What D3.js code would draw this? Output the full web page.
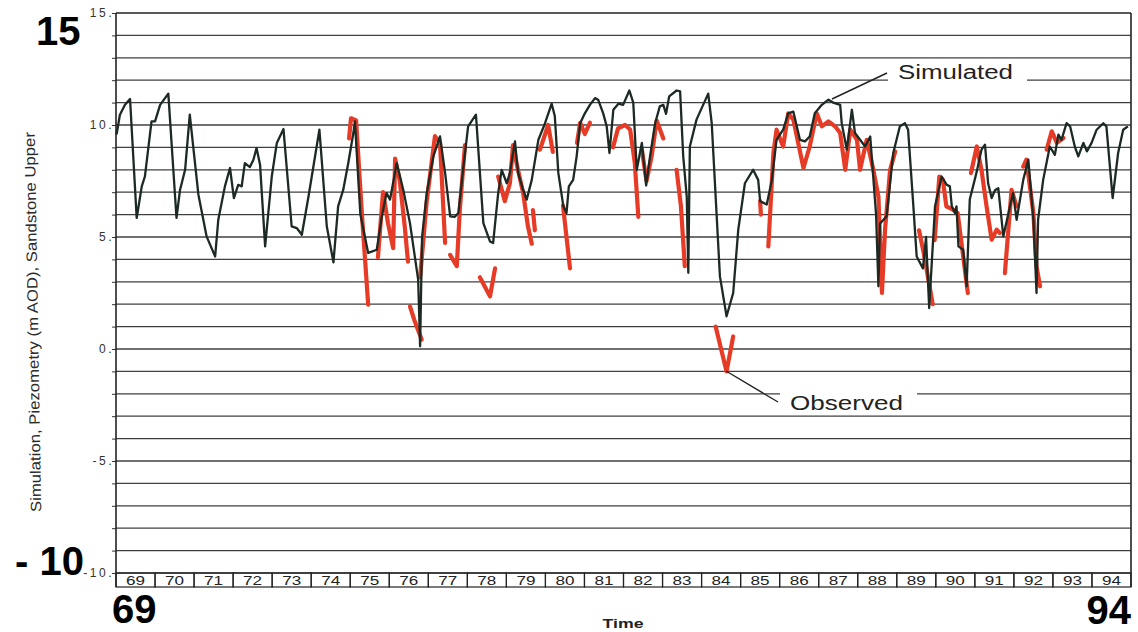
<!DOCTYPE html>
<html>
<head>
<meta charset="utf-8">
<script src="https://cdn.jsdelivr.net/npm/d3@7"></script>
<style>
  html, body { margin: 0; padding: 0; background: #fff; }
  svg { display: block; font-family: "Liberation Sans", Arial, Helvetica, sans-serif; }
</style>
</head>
<body>
<svg id="chart" width="1138" height="632"></svg>
<script>
// ---------- DATA ----------
const yearLabels = ["69","70","71","72","73","74","75","76","77","78","79","80","81","82","83","84","85","86","87","88","89","90","91","92","93","94"];
const yLabelValues = [15, 10, 5, 0, -5, -10];
const gridValues = [-10,-9,-8,-7,-6,-5,-4,-3,-2,-1,0,1,2,3,4,5,6,7,8,9,10,11,12,13,14,15];

// Simulated piezometry [time (year), level m AOD]
const simulated = [
[69.00,9.57],[69.02,9.63],[69.10,10.46],[69.23,10.9],[69.36,11.16],[69.53,5.85],[69.66,7.26],[69.74,7.7],[69.91,10.16],[70.00,10.16],
[70.13,10.9],[70.34,11.4],[70.55,5.85],[70.64,7.1],[70.77,8.0],[70.89,10.46],[71.11,6.9],[71.32,5.03],[71.54,4.13],[71.62,5.77],
[71.79,7.26],[71.92,8.08],[72.02,6.74],[72.13,7.33],[72.22,7.26],[72.30,8.3],[72.43,8.12],[72.52,8.45],[72.60,8.97],[72.69,8.23],
[72.82,4.58],[72.99,7.7],[73.12,9.2],[73.29,9.82],[73.50,5.47],[73.63,5.4],[73.76,5.1],[73.93,6.8],[74.21,9.79],[74.40,5.47],
[74.57,3.87],[74.69,6.37],[74.82,7.1],[74.95,8.3],[75.08,9.64],[75.12,10.16],[75.26,6.0],[75.46,4.29],[75.68,4.43],[75.81,5.92],
[75.93,6.96],[76.02,6.67],[76.19,8.3],[76.36,7.1],[76.53,5.62],[76.74,3.1],[76.79,0.12],[76.84,5.0],[76.96,6.96],[77.13,8.6],
[77.30,9.49],[77.43,7.86],[77.56,5.92],[77.68,5.9],[77.77,6.07],[77.90,8.14],[78.02,9.94],[78.22,10.46],[78.41,5.62],[78.58,4.8],
[78.66,4.73],[78.79,6.96],[78.88,8.0],[79.01,7.4],[79.09,7.86],[79.22,9.27],[79.30,7.86],[79.43,7.1],[79.52,6.67],[79.65,7.55],
[79.82,9.34],[79.99,10.08],[80.16,10.95],[80.24,10.4],[80.33,7.86],[80.46,6.37],[80.54,6.07],[80.60,7.26],[80.71,7.55],[80.80,8.6],
[80.89,10.08],[81.01,10.52],[81.14,10.9],[81.27,11.2],[81.35,11.13],[81.48,10.52],[81.57,9.94],[81.64,8.75],[81.74,10.68],[81.87,10.95],
[81.99,10.9],[82.15,11.54],[82.25,11.0],[82.34,8.0],[82.47,9.2],[82.58,7.3],[82.68,8.6],[82.81,10.08],[82.93,10.83],[83.02,10.9],
[83.09,10.5],[83.17,11.28],[83.36,11.54],[83.45,11.5],[83.53,8.6],[83.62,6.8],[83.66,3.4],[83.70,9.04],[83.87,10.24],[84.17,11.4],
[84.26,10.08],[84.47,3.24],[84.64,1.46],[84.81,2.5],[84.94,5.33],[85.11,7.4],[85.32,8.0],[85.45,7.55],[85.50,6.6],[85.67,6.45],
[85.80,7.55],[85.92,9.34],[86.09,9.79],[86.22,10.52],[86.35,10.6],[86.52,9.34],[86.65,9.27],[86.77,9.49],[86.90,10.52],[87.08,10.9],
[87.25,11.13],[87.37,11.0],[87.55,10.9],[87.59,10.08],[87.72,8.9],[87.85,10.68],[87.93,9.64],[88.06,9.34],[88.19,9.04],[88.32,9.49],
[88.47,6.0],[88.53,2.8],[88.57,5.6],[88.74,5.92],[88.91,8.75],[89.08,9.94],[89.21,10.08],[89.29,9.79],[89.42,6.51],[89.51,4.13],
[89.67,3.6],[89.75,5.0],[89.83,1.83],[89.98,6.37],[90.15,7.7],[90.28,7.33],[90.36,7.26],[90.41,6.37],[90.49,6.07],[90.53,6.37],
[90.58,4.58],[90.70,4.43],[90.79,2.8],[90.87,6.67],[91.05,7.93],[91.17,8.9],[91.26,9.12],[91.34,7.4],[91.43,6.74],[91.52,7.1],
[91.60,7.18],[91.73,5.03],[91.90,6.37],[91.98,6.96],[92.07,5.77],[92.24,7.55],[92.37,8.45],[92.50,5.77],[92.58,2.5],[92.62,5.77],
[92.75,7.55],[92.92,9.04],[93.05,8.67],[93.14,9.57],[93.22,9.34],[93.35,10.08],[93.44,9.94],[93.56,9.04],[93.65,8.6],[93.78,9.2],
[93.87,8.82],[93.99,9.2],[94.12,9.79],[94.29,10.08],[94.37,9.94],[94.53,6.74],[94.67,8.75],[94.80,9.79],[94.92,9.94]
];

// Observed piezometry: separate runs of records [time (year), level m AOD]
const observedRuns = [
[[74.97,9.4],[75.02,10.3],[75.15,10.2],[75.30,6.0],[75.46,1.98]],
[[75.71,4.1],[75.84,7.0],[75.97,5.6],[76.10,4.5],[76.15,8.5],[76.27,7.5],[76.40,5.4],[76.48,3.9]],
[[76.53,1.9],[76.66,1.2],[76.83,0.42]],
[[76.79,3.2],[76.96,6.6],[77.17,9.5],[77.30,9.2],[77.43,4.74]],
[[77.56,4.2],[77.73,3.7],[77.81,6.3],[77.94,9.1]],
[[78.32,3.2],[78.58,2.35],[78.71,3.6]],
[[78.79,7.7],[78.96,6.6],[79.09,7.4],[79.17,9.1],[79.26,8.3],[79.43,6.96],[79.55,5.5],[79.65,4.7]],
[[79.68,6.2],[79.73,5.3]],
[[79.86,8.9],[80.07,10.0],[80.19,8.8]],
[[80.45,6.4],[80.63,3.6]],
[[80.81,9.2],[80.89,10.1],[81.01,9.6],[81.14,10.1]],
[[81.73,9.0],[81.86,9.85],[82.04,10.0],[82.17,9.8],[82.29,8.3],[82.38,5.9]],
[[82.47,8.9],[82.59,7.5],[82.72,8.6],[82.85,10.2],[83.02,9.4]],
[[83.36,8.0],[83.47,6.4],[83.57,3.7]],
[[84.36,1.0],[84.64,-1.0],[84.81,0.56]],
[[85.50,6.6],[85.52,6.0]],
[[85.71,4.58],[85.84,8.75],[85.92,9.79],[86.09,9.04],[86.22,10.52],[86.35,10.24],[86.61,8.08],[86.77,9.04],[86.95,10.52],[87.08,9.94],
 [87.25,10.16],[87.42,9.94],[87.55,9.64],[87.68,8.0],[87.81,9.79],[87.98,9.34],[88.06,8.0],[88.23,9.34],[88.40,8.0],[88.53,6.8],
 [88.62,2.5],[88.70,5.33],[88.83,8.0],[88.96,8.82]],
[[89.57,5.3],[89.70,4.2],[89.92,2.0]],
[[89.97,4.86],[90.09,7.7],[90.18,7.55],[90.27,6.37],[90.44,6.22],[90.56,6.07],[90.69,4.29],[90.82,2.5]],
[[90.90,7.86],[91.05,9.04],[91.17,8.0],[91.30,6.37],[91.43,4.88],[91.56,5.33],[91.64,5.18]],
[[91.77,3.39],[91.94,7.1],[92.07,6.37]],
[[92.24,8.14],[92.32,8.45],[92.50,6.07],[92.58,3.69],[92.67,2.8]],
[[92.84,8.9],[92.97,9.72],[93.10,9.2],[93.27,9.42]]
];

// ---------- DRAW ----------
(function draw() {
const svg = d3.select("#chart");
const pLeft = 116, pRight = 1131, pTop = 13, pBottom = 573, bandBottom = 587;

const x = d3.scaleLinear().domain([69, 95]).range([pLeft, pRight]);
const y = d3.scaleLinear().domain([-10, 15]).range([pBottom, pTop]);
const band = d3.scaleBand().domain(yearLabels).range([pLeft, pRight]).padding(0);

// gridlines
svg.append("g").selectAll("line").data(gridValues).join("line")
  .attr("x1", pLeft).attr("x2", pRight)
  .attr("y1", d => y(d)).attr("y2", d => y(d))
  .attr("stroke", d => d === 15 ? "#222" : "#404040")
  .attr("stroke-width", d => d === 15 ? 1.6 : 1.3);

// left axis with ticks
const yAxis = svg.append("g").attr("transform", `translate(${pLeft},0)`)
  .call(d3.axisLeft(y).tickValues(gridValues).tickSize(4).tickPadding(-2)
    .tickFormat(d => yLabelValues.includes(d) ? d + "." : ""));
yAxis.select(".domain").remove();
yAxis.selectAll(".tick line").attr("stroke", "#333").attr("stroke-width", 1);
yAxis.selectAll(".tick text")
  .attr("font-size", 12).attr("fill", "#333").attr("letter-spacing", "2.5px")
  .attr("font-family", "'Liberation Sans', Arial, sans-serif");

// frame
svg.append("line").attr("x1", pLeft).attr("x2", pLeft).attr("y1", pTop).attr("y2", bandBottom)
  .attr("stroke", "#222").attr("stroke-width", 1.6);
svg.append("line").attr("x1", pRight).attr("x2", pRight).attr("y1", pTop).attr("y2", bandBottom)
  .attr("stroke", "#222").attr("stroke-width", 1.6);

// year band
const yb = svg.append("g");
yb.selectAll("rect").data(yearLabels).join("rect")
  .attr("x", d => band(d)).attr("y", pBottom)
  .attr("width", band.bandwidth()).attr("height", bandBottom - pBottom)
  .attr("fill", "none").attr("stroke", "#222").attr("stroke-width", 1.2);
yb.selectAll("text").data(yearLabels).join("text")
  .attr("x", d => band(d) + band.bandwidth() / 2).attr("y", pBottom + 11.5)
  .attr("text-anchor", "middle").attr("font-size", 12.5).attr("fill", "#222")
  .attr("textLength", 19).attr("lengthAdjust", "spacingAndGlyphs")
  .text(d => d);

// white boxes behind annotation labels (break the gridline)
svg.append("rect").attr("x", 888).attr("y", 62).attr("width", 139).attr("height", 22).attr("fill", "#fff");
svg.append("rect").attr("x", 780).attr("y", 387).attr("width", 137).attr("height", 24).attr("fill", "#fff");

// observed (red)
const line = d3.line().x(d => x(d[0])).y(d => y(d[1]));
svg.append("g").selectAll("path").data(observedRuns).join("path")
  .attr("d", line).attr("fill", "none")
  .attr("stroke", "#e63b26").attr("stroke-width", 4.2)
  .attr("stroke-linejoin", "round").attr("stroke-linecap", "round");

// simulated (black)
svg.append("path").datum(simulated).attr("d", line).attr("fill", "none")
  .attr("stroke", "#1c2a23").attr("stroke-width", 2.3)
  .attr("stroke-linejoin", "round");

// annotations
svg.append("line").attr("x1", 832).attr("y1", 99).attr("x2", 887).attr("y2", 73)
  .attr("stroke", "#222").attr("stroke-width", 1.4);
svg.append("text").attr("x", 898).attr("y", 79).attr("font-size", 20).attr("fill", "#222")
  .attr("textLength", 115).attr("lengthAdjust", "spacingAndGlyphs").text("Simulated");
svg.append("line").attr("x1", 726).attr("y1", 371).attr("x2", 778).attr("y2", 402)
  .attr("stroke", "#222").attr("stroke-width", 1.4);
svg.append("text").attr("x", 790).attr("y", 410).attr("font-size", 20).attr("fill", "#222")
  .attr("textLength", 113).attr("lengthAdjust", "spacingAndGlyphs").text("Observed");

// axis titles
svg.append("text")
  .attr("transform", "translate(38,322) rotate(-91)")
  .attr("text-anchor", "middle").attr("font-size", 15).attr("fill", "#2a2a2a")
  .attr("textLength", 380).attr("lengthAdjust", "spacingAndGlyphs")
  .text("Simulation, Piezometry (m AOD), Sandstone Upper");
svg.append("text").attr("x", 623).attr("y", 628).attr("text-anchor", "middle")
  .attr("font-size", 13).attr("font-weight", "bold").attr("fill", "#222")
  .attr("textLength", 41).attr("lengthAdjust", "spacingAndGlyphs").text("Time");

// large overlay labels
const big = [
  {t: "15", x: 36, y: 45, a: "start"},
  {t: "- 10", x: 15, y: 575, a: "start"},
  {t: "69", x: 112, y: 623, a: "start"},
  {t: "94", x: 1131, y: 624, a: "end"}
];
svg.append("g").selectAll("text").data(big).join("text")
  .attr("x", d => d.x).attr("y", d => d.y).attr("text-anchor", d => d.a)
  .attr("font-size", 40).attr("font-weight", "bold").attr("fill", "#000")
  .text(d => d.t);
})();
</script>
</body>
</html>
